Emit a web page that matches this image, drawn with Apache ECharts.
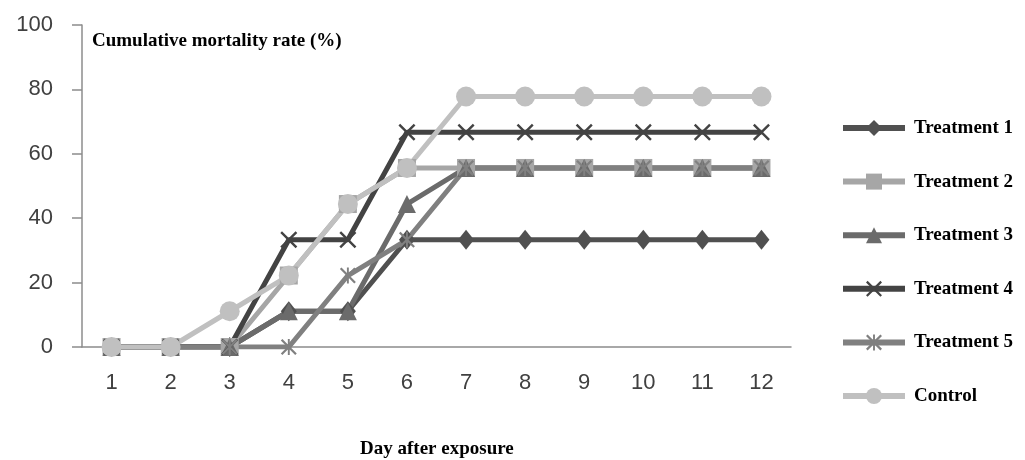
<!DOCTYPE html>
<html>
<head>
<meta charset="utf-8">
<script src="https://cdn.jsdelivr.net/npm/echarts@6/dist/echarts.min.js"></script>
<style>html,body{margin:0;padding:0;background:#fff}#c{width:1025px;height:460px}</style>
</head>
<body>
<div id="c"></div>
<script>
var days = ['1','2','3','4','5','6','7','8','9','10','11','12'];
var seriesNames = ['Treatment 1','Treatment 2','Treatment 3','Treatment 4','Treatment 5','Control'];
var treatment1 = [0,0,0,11.1,11.1,33.3,33.3,33.3,33.3,33.3,33.3,33.3];
var treatment2 = [0,0,0,22.2,44.4,55.6,55.6,55.6,55.6,55.6,55.6,55.6];
var treatment3 = [0,0,0,11.1,11.1,44.4,55.6,55.6,55.6,55.6,55.6,55.6];
var treatment4 = [0,0,0,33.3,33.3,66.7,66.7,66.7,66.7,66.7,66.7,66.7];
var treatment5 = [0,0,0,0,22.2,33.3,55.6,55.6,55.6,55.6,55.6,55.6];
var control    = [0,0,11.1,22.2,44.4,55.6,77.8,77.8,77.8,77.8,77.8,77.8];
var yTicks = [0,20,40,60,80,100];

var xPath = 'path://M0,1L1,0L10,9L9,10ZM9,0L10,1L1,10L0,9Z';
var starPath = 'path://M0,1L1,0L10,9L9,10ZM9,0L10,1L1,10L0,9ZM4.4,0L5.6,0L5.6,10L4.4,10Z';

var allData = [treatment1, treatment2, treatment3, treatment4, treatment5, control];
var colors = ['#505050','#a6a6a6','#6b6b6b','#434343','#808080','#c0c0c0'];
var symbols = ['diamond','rect','triangle',xPath,starPath,'circle'];
var sizes = [[16,20],18,18,17,16,20];

var series = allData.map(function(d,i){
  return {
    name: seriesNames[i],
    type: 'line',
    data: d,
    symbol: symbols[i],
    symbolSize: sizes[i],
    showAllSymbol: true,
    lineStyle: {color: colors[i], width: 5},
    itemStyle: {color: colors[i]},
    emphasis: {disabled: true},
    animation: false
  };
});

var chart = echarts.init(document.getElementById('c'));
chart.setOption({
  backgroundColor: '#ffffff',
  animation: false,
  grid: {left: 82, top: 25, right: 234, bottom: 113, containLabel: false},
  xAxis: {
    type: 'category',
    data: days,
    boundaryGap: true,
    axisLine: {lineStyle: {color: '#8c8c8c', width: 1.5}},
    axisTick: {show: false},
    axisLabel: {color: '#404040', fontSize: 22, fontFamily: 'Liberation Sans', margin: 25}
  },
  yAxis: {
    type: 'value',
    min: yTicks[0], max: yTicks[yTicks.length-1], interval: 20,
    splitLine: {show: false},
    axisLine: {show: true, lineStyle: {color: '#8c8c8c', width: 1.5}},
    axisTick: {show: true, length: 10, lineStyle: {color: '#8c8c8c', width: 1.5}},
    axisLabel: {color: '#404040', fontSize: 22, fontFamily: 'Liberation Sans', margin: 29}
  },
  legend: {
    orient: 'vertical',
    left: 835, top: 113,
    itemWidth: 62, itemHeight: 20,
    itemGap: 33.6,
    data: seriesNames,
    lineStyle: {width: 6},
    textStyle: {fontFamily: 'Liberation Serif', fontWeight: 'bold', fontSize: 19, color: '#000', lineHeight: 20, padding: [0,0,0,4]},
    selectedMode: false
  },
  graphic: [
    {type: 'text', left: 92, top: 32, style: {text: 'Cumulative mortality rate (%)', font: 'bold 19px "Liberation Serif"', fill: '#000'}},
    {type: 'text', left: 360, top: 440, style: {text: 'Day after exposure', font: 'bold 19px "Liberation Serif"', fill: '#000'}}
  ],
  series: series
});
</script>
</body>
</html>
